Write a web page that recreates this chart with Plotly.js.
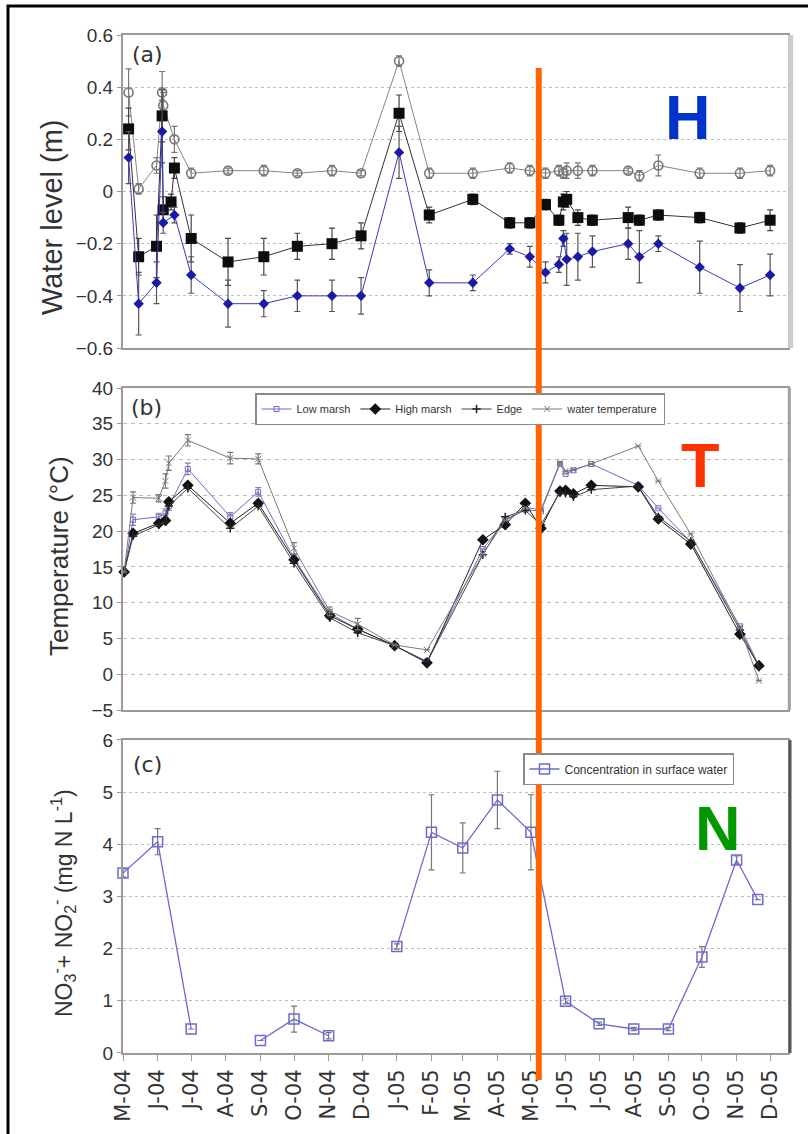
<!DOCTYPE html>
<html>
<head>
<meta charset="utf-8">
<script src="https://cdn.plot.ly/plotly-3.0.1.min.js"></script>
<style>
  html, body { margin: 0; padding: 0; background: #fff; }
  #chart { width: 808px; height: 1134px; }
</style>
</head>
<body>
<div id="chart"></div>
<script>
// ---------- shared month axis ----------
const monthTicks = ['2004-05-01','2004-06-01','2004-07-01','2004-08-01','2004-09-01','2004-10-01',
  '2004-11-01','2004-12-01','2005-01-01','2005-02-01','2005-03-01','2005-04-01','2005-05-01',
  '2005-06-01','2005-07-01','2005-08-01','2005-09-01','2005-10-01','2005-11-01','2005-12-01'];
const monthLabels = ['M-04','J-04','J-04','A-04','S-04','O-04','N-04','D-04','J-05','F-05',
  'M-05','A-05','M-05','J-05','J-05','A-05','S-05','O-05','N-05','D-05'];
const dateRange = ['2004-05-01', '2005-12-17'];

// ---------- (a) water level, m ----------
const levelDates = ['2004-05-06','2004-05-15','2004-05-31','2004-06-05','2004-06-06','2004-06-13',
  '2004-06-16','2004-07-01','2004-08-03','2004-09-04','2004-10-04','2004-11-04','2004-11-30',
  '2005-01-03','2005-01-30','2005-03-10','2005-04-12','2005-04-30','2005-05-14','2005-05-26',
  '2005-05-30','2005-06-02','2005-06-12','2005-06-25','2005-07-27','2005-08-06','2005-08-23',
  '2005-09-29','2005-11-04','2005-12-01'];
const levelEdge = [0.38, 0.01, 0.10, 0.38, 0.33, null, 0.20, 0.07, 0.08, 0.08, 0.07, 0.08, 0.07,
  0.50, 0.07, 0.07, 0.09, 0.08, 0.07, 0.08, 0.07, 0.08, 0.08, 0.08, 0.08, 0.06, 0.10, 0.07, 0.07, 0.08];
const levelEdgeErr = [0.09, 0.02, 0.03, 0.08, 0.05, null, 0.05, 0.02, 0.01, 0.02, 0.01, 0.02, 0.01,
  0.02, 0.02, 0.02, 0.02, 0.02, 0.02, 0.02, 0.02, 0.03, 0.03, 0.02, 0.01, 0.02, 0.04, 0.02, 0.02, 0.02];
const levelHigh = [0.24, -0.25, -0.21, 0.29, -0.07, -0.04, 0.09, -0.18, -0.27, -0.25, -0.21, -0.20, -0.17,
  0.30, -0.09, -0.03, -0.12, -0.12, -0.05, -0.11, -0.04, -0.03, -0.10, -0.11, -0.10, -0.11, -0.09,
  -0.10, -0.14, -0.11];
const levelHighErr = [0.08, 0.07, 0.12, 0.10, 0.05, 0.03, 0.04, 0.09, 0.09, 0.07, 0.05, 0.06, 0.05,
  0.07, 0.03, 0.02, 0.02, 0.02, 0.02, 0.02, 0.03, 0.03, 0.03, 0.02, 0.04, 0.02, 0.02, 0.02, 0.02, 0.04];
const levelLow = [0.13, -0.43, -0.35, 0.23, -0.12, null, -0.09, -0.32, -0.43, -0.43, -0.40, -0.40, -0.40,
  0.15, -0.35, -0.35, -0.22, -0.25, -0.31, -0.28, -0.18, -0.26, -0.25, -0.23, -0.20, -0.25, -0.20,
  -0.29, -0.37, -0.32];
const levelLowErr = [0.10, 0.12, 0.08, 0.12, 0.04, null, 0.03, 0.07, 0.09, 0.05, 0.06, 0.06, 0.07,
  0.10, 0.05, 0.03, 0.02, 0.04, 0.04, 0.03, 0.03, 0.10, 0.09, 0.06, 0.06, 0.10, 0.03, 0.10, 0.09, 0.08];

// ---------- (b) temperature, °C ----------
const tempDates = ['2004-05-02','2004-05-10','2004-06-02','2004-06-08','2004-06-11','2004-06-28',
  '2004-08-05','2004-08-30','2004-10-01','2004-11-02','2004-11-27','2004-12-30','2005-01-28',
  '2005-03-19','2005-04-08','2005-04-26','2005-05-10','2005-05-27','2005-06-01','2005-06-08',
  '2005-06-24','2005-08-05','2005-08-23','2005-09-21','2005-11-04','2005-11-21'];
const tempLowMarsh = [14.3, 21.6, 22.0, 22.5, 23.5, 28.7, 22.0, 25.5, 16.2, 8.5, 6.3, 4.0, 1.8,
  17.5, 21.5, 23.0, 22.8, 29.4, 28.0, 28.5, 29.4, 26.4, 23.2, 18.5, 6.7, 1.2];
const tempLowMarshErr = [null, 0.8, 0.5, 0.6, 0.6, 0.8, 0.6, 0.6, 0.6, 0.5, 0.5, null, null,
  null, null, null, null, null, null, null, null, null, null, null, null, null];
const tempHighMarsh = [14.3, 19.7, 21.1, 21.5, 24.1, 26.4, 21.1, 23.9, 16.0, 8.2, 6.3, 4.0, 1.6,
  18.8, 20.9, 23.9, 20.4, 25.6, 25.7, 25.2, 26.4, 26.2, 21.7, 18.2, 5.6, 1.2];
const tempEdge = [14.3, 19.3, 20.9, 21.3, 23.5, 26.0, 20.4, 23.5, 15.5, 7.9, 5.8, 4.0, 1.7,
  16.7, 22.0, 22.9, 20.9, 25.4, 25.3, 24.8, 25.8, 26.3, 22.0, 18.6, 6.2, 1.0];
const tempWater = [14.3, 24.7, 24.6, 27.0, 29.5, 32.7, 30.2, 30.1, 17.6, 8.8, 7.0, 4.1, 3.4,
  16.8, 21.5, 23.3, 23.0, 29.6, 28.4, 28.6, 29.4, 31.9, 27.0, 19.6, 6.5, -0.9];
const tempWaterErr = [null, 0.8, 0.5, 1.0, 1.0, 0.8, 0.8, 0.7, 0.8, 0.6, 0.8, null, null,
  null, null, null, null, null, null, null, null, null, null, null, null, null];

// ---------- (c) NO3- + NO2-, mg N/L ----------
const nitrateDates = ['2004-05-01','2004-06-01','2004-07-01','2004-08-01','2004-09-01','2004-10-01',
  '2004-11-01','2004-12-01','2005-01-01','2005-02-01','2005-03-01','2005-04-01','2005-05-01',
  '2005-06-01','2005-07-01','2005-08-01','2005-09-01','2005-10-01','2005-11-01','2005-11-20'];
const nitrate = [3.45, 4.05, 0.46, null, 0.24, 0.65, 0.33, null, 2.04, 4.23, 3.93, 4.85, 4.23,
  0.99, 0.56, 0.46, 0.46, 1.84, 3.70, 2.94];
const nitrateErr = [0.08, 0.25, null, null, null, 0.25, 0.06, null, 0.05, 0.72, 0.48, 0.55, 0.72,
  0.05, 0.03, 0.03, 0.03, 0.20, 0.08, null];

// ---------- styling helpers ----------
const FONT = 'Liberation Sans, Arial, sans-serif';
const WIDE = 'DejaVu Sans, Verdana, sans-serif';
const errBars = (arr, color) => ({ type: 'data', array: arr, visible: true,
  color: color || '#555', thickness: 1.2, width: 3 });

const traces = [
  // (a)
  { x: levelDates, y: levelEdge, xaxis: 'x', yaxis: 'y', mode: 'lines+markers', connectgaps: true,
    line: { color: '#858585', width: 1 }, error_y: errBars(levelEdgeErr, '#777'),
    marker: { symbol: 'circle-open', size: 9, color: '#777', line: { width: 1.6 } },
    showlegend: false, cliponaxis: false },
  { x: levelDates, y: levelHigh, xaxis: 'x', yaxis: 'y', mode: 'lines+markers', connectgaps: true,
    line: { color: '#333', width: 1 }, error_y: errBars(levelHighErr, '#444'),
    marker: { symbol: 'square', size: 11, color: '#0d0d0d' },
    showlegend: false, cliponaxis: false },
  { x: levelDates, y: levelLow, xaxis: 'x', yaxis: 'y', mode: 'lines+markers', connectgaps: true,
    line: { color: '#3a3ab8', width: 1 }, error_y: errBars(levelLowErr, '#555'),
    marker: { symbol: 'diamond', size: 8, color: '#1a1aa6' },
    showlegend: false, cliponaxis: false },

  // (b)
  { name: 'Low marsh', x: tempDates, y: tempLowMarsh, xaxis: 'x2', yaxis: 'y2', mode: 'lines+markers',
    line: { color: '#6b6bd0', width: 1 }, error_y: errBars(tempLowMarshErr, '#888'),
    marker: { symbol: 'square-open', size: 5, color: '#6b6bd0', line: { width: 1 } },
    legend: 'legend', cliponaxis: false },
  { name: 'High marsh', x: tempDates, y: tempHighMarsh, xaxis: 'x2', yaxis: 'y2', mode: 'lines+markers',
    line: { color: '#222', width: 1 },
    marker: { symbol: 'diamond', size: 9, color: '#111' },
    legend: 'legend', cliponaxis: false },
  { name: 'Edge', x: tempDates, y: tempEdge, xaxis: 'x2', yaxis: 'y2', mode: 'lines+markers',
    line: { color: '#444', width: 1 },
    marker: { symbol: 'cross-thin-open', size: 6, color: '#222', line: { width: 1.5 } },
    legend: 'legend', cliponaxis: false },
  { name: 'water temperature', x: tempDates, y: tempWater, xaxis: 'x2', yaxis: 'y2', mode: 'lines+markers',
    line: { color: '#7a7a7a', width: 1 }, error_y: errBars(tempWaterErr, '#777'),
    marker: { symbol: 'x-thin-open', size: 6, color: '#777', line: { width: 1 } },
    legend: 'legend', cliponaxis: false },

  // (c)
  { name: 'Concentration in surface water', x: nitrateDates, y: nitrate, xaxis: 'x3', yaxis: 'y3',
    mode: 'lines+markers', connectgaps: false,
    line: { color: '#6b6bd0', width: 1.3 }, error_y: errBars(nitrateErr, '#777'),
    marker: { symbol: 'square-open', size: 10, color: '#6b6bd0', line: { width: 1.5 } },
    legend: 'legend2', cliponaxis: false }
];

const frameAxis = { showline: true, mirror: true, linecolor: '#9a9a9a', linewidth: 2 };

const xBase = Object.assign({ type: 'date', range: dateRange, showgrid: false, zeroline: false,
  tickvals: monthTicks, ticktext: monthLabels }, frameAxis);

const yBase = Object.assign({ zeroline: false, showgrid: true, gridcolor: '#bcbcbc', gridwidth: 1,
  griddash: 'dot', ticks: 'outside', ticklen: 4, tickcolor: '#999',
  tickfont: { family: FONT, size: 19, color: '#333' } }, frameAxis);

const px2x = px => (px - 123) / 665;
const px2y = py => (1053 - py) / 1018;

// centred text placed by pixel position
const label = (text, px, py, size, extra) => Object.assign({
  text: text, xref: 'paper', yref: 'paper', x: px2x(px), y: px2y(py),
  xanchor: 'center', yanchor: 'middle', showarrow: false,
  font: { family: FONT, size: size, color: '#333' } }, extra || {});

const layout = {
  width: 808, height: 1134,
  margin: { l: 123, r: 20, t: 35, b: 81, pad: 0 },
  paper_bgcolor: '#fff', plot_bgcolor: '#fff',
  font: { family: FONT, color: '#333' },

  xaxis: Object.assign({}, xBase, { anchor: 'y', showticklabels: false, ticks: '' }),
  xaxis2: Object.assign({}, xBase, { anchor: 'y2', showticklabels: false, ticks: '' }),
  xaxis3: Object.assign({}, xBase, { anchor: 'y3', ticks: 'outside', ticklen: 6, tickcolor: '#999',
    tickangle: -90, tickfont: { family: WIDE, size: 21, color: '#333' } }),

  yaxis: Object.assign({}, yBase, { anchor: 'x', domain: [0.6925, 1], range: [-0.6, 0.6], dtick: 0.2, tick0: 0 }),
  yaxis2: Object.assign({}, yBase, { anchor: 'x2', domain: [0.3369, 0.6532], range: [-5, 40], dtick: 5,
    griddash: '4px,4px' }),
  yaxis3: Object.assign({}, yBase, { anchor: 'x3', domain: [0, 0.3075], range: [0, 6], dtick: 1 }),

  legend: { x: px2x(255), y: px2y(393), xanchor: 'left', yanchor: 'top', orientation: 'h',
    bgcolor: '#fff', bordercolor: '#8a8a8a', borderwidth: 1.5, itemwidth: 30,
    font: { family: FONT, size: 11, color: '#333' } },
  legend2: { x: px2x(523), y: px2y(753), xanchor: 'left', yanchor: 'top', orientation: 'h',
    bgcolor: '#fff', bordercolor: '#8a8a8a', borderwidth: 1.5, itemwidth: 30,
    font: { family: FONT, size: 12, color: '#333' } },

  shapes: [
    // heavier right-hand panel edges
    { type: 'line', xref: 'paper', yref: 'paper', x0: 1.004, x1: 1.004, y0: 0.6925, y1: 1,
      line: { color: '#cdcdcd', width: 5 } },
    { type: 'line', xref: 'paper', yref: 'paper', x0: 1.002, x1: 1.002, y0: 0.3369, y1: 0.6532,
      line: { color: '#a0a0a0', width: 3 } },
    { type: 'line', xref: 'paper', yref: 'paper', x0: 1.003, x1: 1.003, y0: 0, y1: 0.3075,
      line: { color: '#555', width: 3 } },
    // outer frame
    { type: 'rect', xref: 'paper', yref: 'paper', x0: px2x(8), x1: px2x(818), y0: px2y(1140), y1: px2y(6),
      line: { color: '#000', width: 3 } },
    // marker line across all three panels
    { type: 'line', xref: 'x3', yref: 'paper', x0: '2005-05-08', x1: '2005-05-08',
      y0: px2y(1080), y1: px2y(68), layer: 'above', line: { color: '#ff6600', width: 6 } }
  ],

  annotations: [
    label('(a)', 147, 55, 22, { font: { family: WIDE, size: 22, color: '#333' } }),
    label('(b)', 146, 408, 22, { font: { family: WIDE, size: 22, color: '#333' } }),
    label('(c)', 147, 764, 22, { font: { family: WIDE, size: 22, color: '#333' } }),

    label('Water level (m)', 52, 217, 29, { textangle: -90 }),
    label('Temperature (°C)', 59, 556, 26, { textangle: -90 }),
    label('NO<sub>3</sub><sup>-</sup>+ NO<sub>2</sub><sup>-</sup> (mg N L<sup>-1</sup>)', 63, 903, 23,
      { textangle: -90 }),

    label('H', 688, 117, 63, { font: { family: FONT, size: 63, color: '#0033cc', weight: 'bold' } }),
    label('T', 700, 465, 63, { font: { family: FONT, size: 63, color: '#ff3300', weight: 'bold' } }),
    label('N', 718, 828, 63, { font: { family: FONT, size: 63, color: '#009900', weight: 'bold' } })
  ]
};

Plotly.newPlot('chart', traces, layout, { displayModeBar: false, staticPlot: true });
</script>
</body>
</html>
